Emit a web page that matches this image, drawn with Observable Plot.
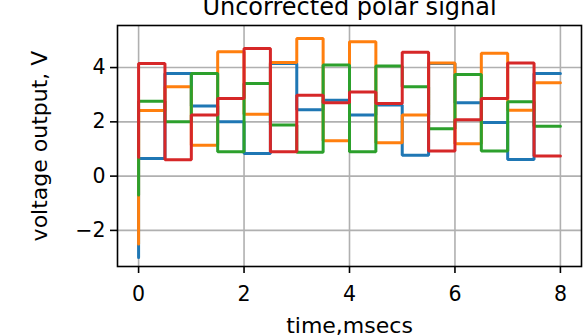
<!DOCTYPE html>
<html>
<head>
<meta charset="utf-8">
<script src="https://cdn.jsdelivr.net/npm/d3@7"></script>
<script src="https://cdn.jsdelivr.net/npm/@observablehq/plot@0.6"></script>
<style>
  html, body { margin: 0; padding: 0; background: white; }
</style>
</head>
<body>
<div id="chart"></div>
<script>
const titleText = "Uncorrected polar signal";
const xLabel = "time,msecs";
const yLabel = "voltage output, V";
const xTicks = [0, 2, 4, 6, 8];
const yTicks = [-2, 0, 2, 4];
const segStart = [0, 0.5, 1, 1.5, 2, 2.5, 3, 3.5, 4, 4.5, 5, 5.5, 6, 6.5, 7, 7.5];
const tEnd = 8;
const seriesNames = ["series 1", "series 2", "series 3", "series 4"];
const seriesColors = ["#1f77b4", "#ff7f0e", "#2ca02c", "#d62728"];
const initial = [-3.0, -2.5, -0.7, 0.7];
const s1 = [0.65, 3.78, 2.58, 2.0, 0.83, 4.15, 2.45, 2.8, 2.25, 2.62, 0.77, 4.15, 2.7, 1.98, 0.61, 3.78];
const s2 = [2.42, 3.29, 1.14, 4.58, 2.28, 4.19, 5.07, 1.3, 4.95, 1.23, 2.25, 4.17, 1.19, 4.53, 2.43, 3.44];
const s3 = [2.76, 2.0, 3.78, 0.9, 3.41, 1.88, 0.88, 4.09, 0.9, 4.06, 3.29, 1.75, 3.74, 0.93, 2.74, 1.84];
const s4 = [4.15, 0.6, 2.25, 2.86, 4.7, 0.9, 2.98, 2.7, 3.1, 2.68, 4.56, 0.93, 2.08, 2.86, 4.17, 0.74];
const seriesValues = [s1, s2, s3, s4];

const rows = [];
seriesValues.forEach((vals, k) => {
  const s = seriesNames[k];
  rows.push({s, t: 0, v: initial[k]});
  vals.forEach((v, i) => rows.push({s, t: segStart[i], v}));
  rows.push({s, t: tEnd, v: vals[vals.length - 1]});
});

const fmt = d => d < 0 ? "\u2212" + Math.abs(d) : String(d);

const chart = Plot.plot({
  width: 583,
  height: 336,
  marginLeft: 117,
  marginRight: 2,
  marginTop: 25,
  marginBottom: 70,
  style: {fontFamily: "DejaVu Sans", fontSize: "20px", background: "white", color: "black", overflow: "hidden"},
  x: {domain: [-0.4, 8.4]},
  y: {domain: [-3.33, 5.55]},
  color: {type: "categorical", domain: seriesNames, range: seriesColors},
  marks: [
    Plot.gridX(xTicks, {stroke: "#b0b0b0", strokeOpacity: 1, strokeWidth: 1.6}),
    Plot.gridY(yTicks, {stroke: "#b0b0b0", strokeOpacity: 1, strokeWidth: 1.6}),
    Plot.line(rows, {x: "t", y: "v", z: "s", stroke: "s", curve: "step-after", strokeWidth: 3, strokeLinejoin: "miter"}),
    Plot.frame({stroke: "black", strokeWidth: 1.6}),
    Plot.axisX(xTicks, {tickSize: 7, tickPadding: 13, strokeWidth: 1.6, fontSize: 20.5, label: null, tickFormat: fmt}),
    Plot.axisY(yTicks, {tickSize: 7, tickPadding: 5, strokeWidth: 1.6, fontSize: 20.5, label: null, tickFormat: fmt}),
    Plot.text([xLabel], {text: d => d, frameAnchor: "bottom", dy: 66, lineAnchor: "bottom", textAnchor: "middle", fontSize: 22}),
    Plot.text([yLabel], {text: d => d, frameAnchor: "left", dx: -78, rotate: -90, lineAnchor: "middle", textAnchor: "middle", fontSize: 22}),
    Plot.text([titleText], {text: d => d, frameAnchor: "top", dy: -11, lineAnchor: "bottom", textAnchor: "middle", fontSize: 24})
  ]
});
document.getElementById("chart").appendChild(chart);
</script>
</body>
</html>
